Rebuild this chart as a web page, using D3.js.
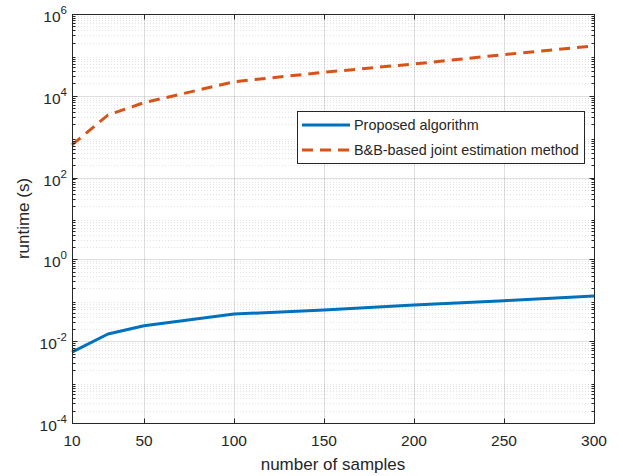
<!DOCTYPE html>
<html>
<head>
<meta charset="utf-8">
<script src="https://cdn.jsdelivr.net/npm/d3@7"></script>
<style>
html,body{margin:0;padding:0;background:#fff;}
svg{display:block;}
text{font-family:"Liberation Sans",Arial,Helvetica,sans-serif;fill:#262626;}
</style>
</head>
<body>
<svg id="chart" width="623" height="476"></svg>
<script>
const samples = [10, 30, 50, 100, 150, 200, 250, 300];
const proposed = [0.0054, 0.0150, 0.0239, 0.046, 0.058, 0.077, 0.098, 0.128];
const bnb = [630, 3400, 6800, 22000, 37600, 60000, 102000, 165000];
const xTicks = [10, 50, 100, 150, 200, 250, 300];
const yExps = [-4, -2, 0, 2, 4, 6];
const seriesNames = ["Proposed algorithm", "B&B-based joint estimation method"];

const W = 623, H = 476;
const m = {left: 72, right: 29, top: 14, bottom: 53};
const svg = d3.select("#chart");
const x = d3.scaleLinear().domain([10, 300]).range([m.left, W - m.right]);
const y = d3.scaleLog().domain([1e-4, 1e6]).range([H - m.bottom, m.top]);
const axisCol = "#262626";

const g = svg.append("g");
// minor grid
const minorVals = [];
for (let e = -4; e < 6; e++) for (let k = 2; k <= 9; k++) minorVals.push(k * Math.pow(10, e));
g.selectAll(".minor").data(minorVals).enter().append("line")
  .attr("x1", m.left).attr("x2", W - m.right)
  .attr("y1", d => Math.round(y(d)) + 0.5).attr("y2", d => Math.round(y(d)) + 0.5)
  .attr("stroke", axisCol).attr("stroke-opacity", 0.13).attr("stroke-width", 1)
  .attr("stroke-dasharray", "1,2");
// major grid
g.selectAll(".majy").data(yExps.map(e => Math.pow(10, e))).enter().append("line")
  .attr("x1", m.left).attr("x2", W - m.right)
  .attr("y1", d => Math.round(y(d)) + 0.5).attr("y2", d => Math.round(y(d)) + 0.5)
  .attr("stroke", axisCol).attr("stroke-opacity", 0.15).attr("stroke-width", 1);
g.selectAll(".majx").data(xTicks).enter().append("line")
  .attr("x1", d => Math.round(x(d)) + 0.5).attr("x2", d => Math.round(x(d)) + 0.5)
  .attr("y1", m.top).attr("y2", H - m.bottom)
  .attr("stroke", axisCol).attr("stroke-opacity", 0.15).attr("stroke-width", 1);

// data lines
const line = (vals) => d3.line().x((d, i) => x(samples[i])).y(d => y(d))(vals);
svg.append("path").attr("d", line(proposed)).attr("fill", "none")
  .attr("stroke", "#0072BD").attr("stroke-width", 3).attr("stroke-linejoin", "round");
svg.append("path").attr("d", line(bnb)).attr("fill", "none")
  .attr("stroke", "#D95319").attr("stroke-width", 3).attr("stroke-dasharray", "11,7");

// axes
const L = m.left + 0.5, R = W - m.right + 0.5, T = m.top + 0.5, B = H - m.bottom + 0.5;
const ax = svg.append("g").attr("stroke", axisCol).attr("stroke-width", 1).attr("fill", "none");
ax.append("rect").attr("x", L).attr("y", T).attr("width", R - L).attr("height", B - T);
xTicks.forEach(t => {
  const px = Math.round(x(t)) + 0.5;
  ax.append("line").attr("x1", px).attr("x2", px).attr("y1", B).attr("y2", B - 5);
  ax.append("line").attr("x1", px).attr("x2", px).attr("y1", T).attr("y2", T + 5);
});
yExps.forEach(e => {
  const py = Math.round(y(Math.pow(10, e))) + 0.5;
  ax.append("line").attr("x1", L).attr("x2", L + 5).attr("y1", py).attr("y2", py);
  ax.append("line").attr("x1", R).attr("x2", R - 5).attr("y1", py).attr("y2", py);
});
minorVals.forEach(v => {
  const py = Math.round(y(v)) + 0.5;
  ax.append("line").attr("x1", L).attr("x2", L + 3).attr("y1", py).attr("y2", py);
  ax.append("line").attr("x1", R).attr("x2", R - 3).attr("y1", py).attr("y2", py);
});

// tick labels
svg.selectAll(".xl").data(xTicks).enter().append("text")
  .attr("x", d => x(d)).attr("y", H - m.bottom + 23)
  .attr("text-anchor", "middle").attr("font-size", "15.5px").text(d => d);
yExps.forEach(e => {
  const t = svg.append("text").attr("x", m.left - 5).attr("y", y(Math.pow(10, e)) + 8)
    .attr("text-anchor", "end").attr("font-size", "15.5px");
  t.append("tspan").text("10");
  t.append("tspan").attr("dy", -8).attr("font-size", "11.5px").text(e);
});

// axis labels
svg.append("text").attr("x", (m.left + W - m.right) / 2).attr("y", H - 6)
  .attr("text-anchor", "middle").attr("font-size", "17px").text("number of samples");
svg.append("text").attr("transform", `translate(29,${(m.top + H - m.bottom) / 2}) rotate(-90)`)
  .attr("text-anchor", "middle").attr("font-size", "17px").text("runtime (s)");

// legend
const lg = svg.append("g");
lg.append("rect").attr("x", 297.5).attr("y", 111.5).attr("width", 287).attr("height", 52)
  .attr("fill", "#fff").attr("stroke", axisCol).attr("stroke-width", 1);
const cols = ["#0072BD", "#D95319"];
const dashes = [null, "11,7"];
seriesNames.forEach((n, i) => {
  const yy = 125 + i * 25;
  const l = lg.append("line").attr("x1", 302).attr("x2", 350).attr("y1", yy).attr("y2", yy)
    .attr("stroke", cols[i]).attr("stroke-width", 3);
  if (dashes[i]) l.attr("stroke-dasharray", dashes[i]);
  lg.append("text").attr("x", 354).attr("y", yy + 5).attr("font-size", "14.4px").text(n);
});
</script>
</body>
</html>
